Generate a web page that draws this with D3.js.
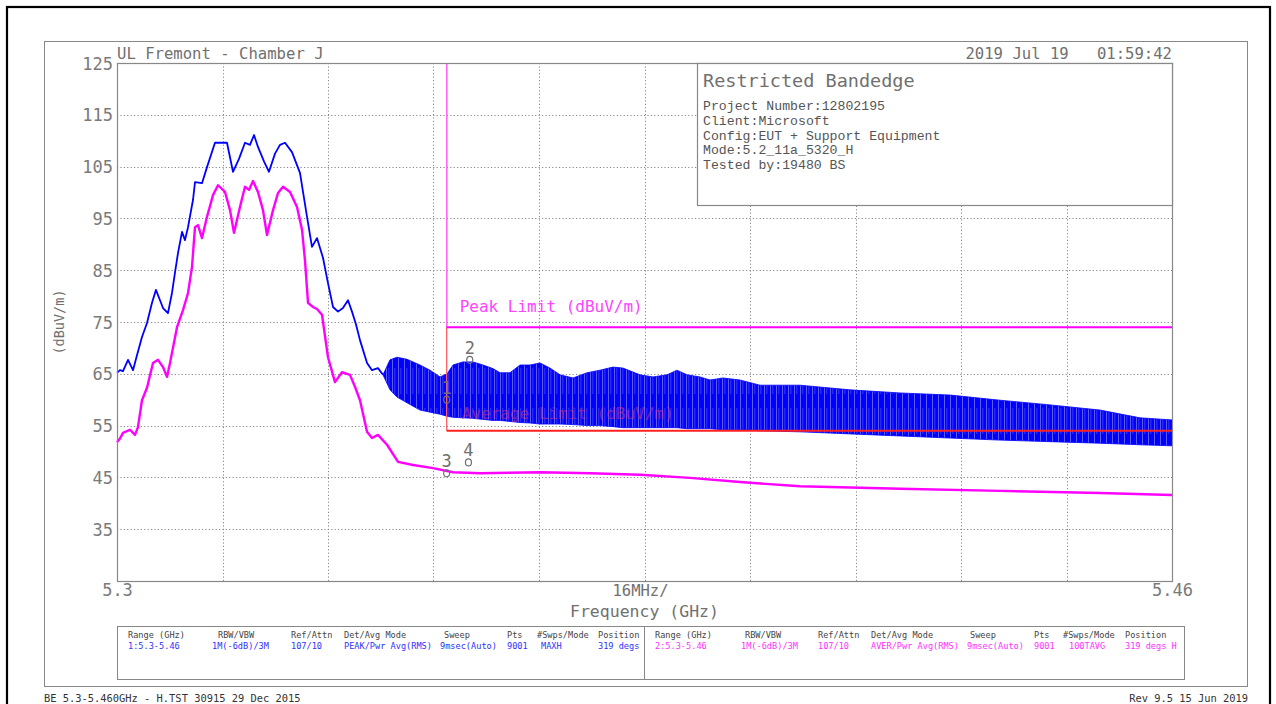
<!DOCTYPE html>
<html><head><meta charset="utf-8">
<script src="https://cdn.jsdelivr.net/npm/d3@7"></script>
<style>
html,body{margin:0;padding:0;background:#fff;}
svg{display:block;}
text{font-family:"DejaVu Sans Mono","Liberation Mono",monospace;}
</style></head>
<body>
<svg id="chart" width="1276" height="704"></svg>
<script>
// ---------------- DATA ----------------
// Trace 1 (blue, PEAK / MAXH) smooth part: frequency (GHz) and level (dBuV/m)
const peakFreq = [5.30000,5.30045,5.30091,5.30167,5.30243,5.30303,5.30379,5.30455,5.30531,5.30591,5.30652,5.30698,5.30773,5.30834,5.30880,5.30925,5.30986,5.31031,5.31077,5.31153,5.31183,5.31289,5.31365,5.31486,5.31577,5.31668,5.31759,5.31850,5.31941,5.32017,5.32078,5.32138,5.32229,5.32305,5.32396,5.32472,5.32548,5.32654,5.32775,5.32882,5.32957,5.33033,5.33124,5.33200,5.33276,5.33352,5.33427,5.33503,5.33564,5.33625,5.33685,5.33792,5.33867,5.33958,5.34034];
const peakVal  = [65.2,65.7,65.5,67.7,65.7,68.6,72.1,74.8,78.7,81.2,79.2,77.7,76.7,80.6,84.6,88.3,92.4,90.8,93.3,98.6,102.0,101.8,104.9,109.6,109.6,109.6,104.0,106.5,109.6,109.2,111.1,108.8,106.0,104.0,107.5,109.2,109.6,107.8,103.8,95.3,89.5,91.2,87.4,82.5,77.9,77.0,77.7,79.2,77.0,74.5,71.5,67.1,65.7,66.1,64.8];
// Trace 1 noisy band (upper / lower envelope) beyond 5.34 GHz
const bandFreq   = [5.34034,5.34140,5.34247,5.34398,5.34595,5.34747,5.34899,5.35005,5.35096,5.35247,5.35399,5.35551,5.35702,5.35809,5.35960,5.36112,5.36264,5.36415,5.36567,5.36719,5.36916,5.37128,5.37325,5.37522,5.37674,5.37932,5.38129,5.38341,5.38493,5.38645,5.38842,5.38993,5.39190,5.39448,5.39752,5.40358,5.41117,5.41875,5.42633,5.43392,5.44150,5.44908,5.45515,5.46000];
const bandTop    = [64.8,67.7,68.2,67.8,66.7,65.7,64.4,65.0,66.7,67.3,67.3,66.7,66.0,65.2,65.2,66.7,66.7,67.1,66.1,64.8,64.2,65.2,65.7,66.3,66.1,64.8,64.4,64.8,65.7,64.8,64.4,63.8,64.2,63.8,62.8,62.8,61.9,61.3,60.9,59.9,59.0,58.0,56.5,56.1];
const bandBottom = [64.8,61.9,60.5,59.4,58.0,57.6,57.2,56.8,56.6,56.5,56.4,56.2,56.0,56.0,55.8,55.6,55.5,55.3,55.3,55.3,55.2,55.0,55.0,54.8,54.6,54.6,54.6,54.6,54.6,54.4,54.4,54.4,54.2,54.2,54.0,53.8,53.4,53.0,52.6,52.2,51.9,51.6,51.3,51.1];
// Trace 2 (magenta, AVER / 100TAVG)
const avgFreq = [5.30000,5.30045,5.30091,5.30197,5.30273,5.30318,5.30379,5.30455,5.30546,5.30622,5.30698,5.30758,5.30804,5.30910,5.31001,5.31077,5.31137,5.31183,5.31228,5.31289,5.31365,5.31456,5.31532,5.31638,5.31714,5.31774,5.31865,5.31941,5.32002,5.32063,5.32138,5.32214,5.32275,5.32366,5.32442,5.32518,5.32624,5.32730,5.32806,5.32851,5.32897,5.32973,5.33033,5.33109,5.33200,5.33306,5.33412,5.33534,5.33609,5.33685,5.33792,5.33867,5.33958,5.34095,5.34262,5.34489,5.34792,5.35096,5.35505,5.36415,5.37173,5.37932,5.38690,5.39448,5.40358,5.41875,5.43392,5.44908,5.46000];
const avgVal  = [51.8,52.5,53.6,54.2,53.2,54.7,59.9,62.3,67.1,67.7,66.3,64.4,67.1,74.0,77.3,80.6,85.6,93.3,93.7,91.2,95.3,99.5,101.4,100.1,96.6,92.2,97.2,101.1,100.5,102.2,100.1,96.6,91.8,96.6,99.9,101.1,100.1,97.2,92.8,86.9,78.7,77.9,77.5,76.4,68.2,63.4,65.3,64.8,62.5,59.9,53.8,52.6,53.2,51.3,48.0,47.4,46.8,46.0,45.8,46.0,45.8,45.5,44.9,44.1,43.3,42.8,42.4,42.0,41.6];
// Limits
const limitFreq = [5.35, 5.46];
const peakLimit = [74, 74];
const avgLimit  = [54, 54];
// Markers
const markerIds  = ["1","2","3","4"];
const markerFreq = [5.3500, 5.3535, 5.3500, 5.3533];
const markerVal  = [60.0, 67.7, 45.8, 47.9];
// Axes
const yTicks = [35,45,55,65,75,85,95,105,115,125];
const xGrid  = [5.316,5.332,5.348,5.364,5.380,5.396,5.412,5.428,5.444];
const xTickVals = [5.3, 5.46];
const xTickLabels = ["5.3", "5.46"];
// Text
const headerLeft = "UL Fremont - Chamber J";
const headerRight = "2019 Jul 19   01:59:42";
const infoTitle = "Restricted Bandedge";
const infoLines = ["Project Number:12802195","Client:Microsoft","Config:EUT + Support Equipment","Mode:5.2_11a_5320_H","Tested by:19480 BS"];
const tableHeaders = ["Range (GHz)","RBW/VBW","Ref/Attn","Det/Avg Mode","Sweep","Pts","#Swps/Mode","Position"];
const tableRow1 = ["1:5.3-5.46","1M(-6dB)/3M","107/10","PEAK/Pwr Avg(RMS)","9msec(Auto)","9001","MAXH","319 degs H"];
const tableRow2 = ["2:5.3-5.46","1M(-6dB)/3M","107/10","AVER/Pwr Avg(RMS)","9msec(Auto)","9001","100TAVG","319 degs H"];
const footerLeft = "BE 5.3-5.460GHz - H.TST 30915 29 Dec 2015";
const footerRight = "Rev 9.5 15 Jun 2019";

// ---------------- DRAW ----------------
const svg = d3.select("#chart");
const L = 117, R = 1172, T = 63, B = 581;
const x = d3.scaleLinear().domain([5.3, 5.46]).range([L, R]);
const y = d3.scaleLinear().domain([25, 125]).range([B, T]);
const grey = "#707070";
const BLUE = "#0000ff", MAG = "#ff00ff", RED = "#ff2020";

// frames
svg.append("rect").attr("x",7).attr("y",7).attr("width",1263).attr("height",730)
  .attr("fill","none").attr("stroke","#000").attr("stroke-width",2.2);
svg.append("rect").attr("x",44.5).attr("y",41.5).attr("width",1203).attr("height",645)
  .attr("fill","none").attr("stroke","#888").attr("stroke-width",1);

// pattern for noisy band
const defs = svg.append("defs");
const pat = defs.append("pattern").attr("id","streaks").attr("patternUnits","userSpaceOnUse")
  .attr("width",6).attr("height",40);
pat.append("rect").attr("width",6).attr("height",40).attr("fill",BLUE);
pat.append("rect").attr("x",2).attr("width",0.8).attr("height",40).attr("fill","#fff").attr("opacity",0.45);
pat.append("rect").attr("x",4.6).attr("y",8).attr("width",0.6).attr("height",26).attr("fill","#fff").attr("opacity",0.35);

// grid
const grid = svg.append("g").attr("stroke","#888").attr("stroke-width",1).attr("stroke-dasharray","1.2,2.2");
grid.selectAll("line.h").data(yTicks.filter(v => v > 25 && v < 125)).join("line")
  .attr("x1",L).attr("x2",R).attr("y1",d => Math.round(y(d))+0.5).attr("y2",d => Math.round(y(d))+0.5);
grid.selectAll("line.v").data(xGrid).join("line")
  .attr("y1",T).attr("y2",B).attr("x1",d => Math.round(x(d))+0.5).attr("x2",d => Math.round(x(d))+0.5);

// y axis labels
const yAxis = d3.axisLeft(y).tickValues(yTicks).tickSize(0).tickPadding(4).tickFormat(d3.format("d"));
const gy = svg.append("g").attr("transform",`translate(${L},0)`).call(yAxis);
gy.select(".domain").remove();
gy.selectAll("text").attr("fill","#7a7a7a").attr("font-size",17).attr("dy","0.36em")
  .style("font-family","'DejaVu Sans Mono',monospace");

// x axis labels
const xAxis = d3.axisBottom(x).tickValues(xTickVals).tickSize(0).tickPadding(3)
  .tickFormat((d,i) => xTickLabels[i]);
const gx = svg.append("g").attr("transform",`translate(0,${B})`).call(xAxis);
gx.select(".domain").remove();
gx.selectAll("text").attr("fill","#7a7a7a").attr("font-size",17)
  .style("font-family","'DejaVu Sans Mono',monospace");

svg.append("text").attr("x",(L+R)/2-4).attr("y",596).attr("text-anchor","middle")
  .attr("font-size",15.5).attr("fill",grey).text("16MHz/");
svg.append("text").attr("x",(L+R)/2).attr("y",617).attr("text-anchor","middle")
  .attr("font-size",16.5).attr("fill",grey).text("Frequency (GHz)");
svg.append("text").attr("transform","translate(64,322) rotate(-90)").attr("text-anchor","middle")
  .attr("font-size",13.5).attr("fill",grey).text("(dBuV/m)");

// header texts
svg.append("text").attr("x",L).attr("y",59).attr("font-size",15.6).attr("fill",grey).text(headerLeft);
svg.append("text").attr("x",R).attr("y",59).attr("text-anchor","end").attr("font-size",15.6).attr("fill",grey)
  .style("white-space","pre").text(headerRight);

// traces
const band = d3.area().x((d,i) => x(bandFreq[i])).y0((d,i) => y(bandBottom[i])).y1((d,i) => y(bandTop[i]));
svg.append("path").attr("d", band(bandFreq)).attr("fill","url(#streaks)").attr("stroke",BLUE).attr("stroke-width",0.8);

const lineGen = (fs, vs) => d3.line().x((d,i) => x(fs[i])).y((d,i) => y(vs[i]))(fs);
svg.append("path").attr("d", lineGen(peakFreq, peakVal)).attr("fill","none").attr("stroke",BLUE)
  .attr("stroke-width",1.8).attr("stroke-linejoin","round");
svg.append("path").attr("d", lineGen(avgFreq, avgVal)).attr("fill","none").attr("stroke",MAG)
  .attr("stroke-width",2.4).attr("stroke-linejoin","round");

// limits
svg.append("line").attr("x1",x(limitFreq[0])).attr("x2",x(limitFreq[0])).attr("y1",T).attr("y2",y(avgLimit[0]))
  .attr("stroke","#ff6060").attr("stroke-width",1.3);
svg.append("line").attr("x1",x(limitFreq[0])).attr("x2",x(limitFreq[0])).attr("y1",T).attr("y2",y(peakLimit[0]))
  .attr("stroke","#ff66ff").attr("stroke-width",1.3);
svg.append("path").attr("d", lineGen(limitFreq, peakLimit)).attr("stroke",MAG).attr("stroke-width",2);
svg.append("path").attr("d", lineGen(limitFreq, avgLimit)).attr("stroke",RED).attr("stroke-width",2);
svg.append("text").attr("x",x(limitFreq[0])+13).attr("y",y(peakLimit[0])-15).attr("font-size",16)
  .attr("fill","#ff44ff").text("Peak Limit (dBuV/m)");
svg.append("text").attr("x",x(limitFreq[0])+15).attr("y",y(avgLimit[0])-12).attr("font-size",16)
  .attr("fill","#e03070").attr("opacity",0.55).text("Average Limit (dBuV/m)");

// markers
const mk = svg.append("g");
markerIds.forEach((id,i) => {
  const cx = x(markerFreq[i]), cy = y(markerVal[i]);
  mk.append("ellipse").attr("cx",cx).attr("cy",cy).attr("rx",3).attr("ry",3.5)
    .attr("fill","none").attr("stroke",grey).attr("stroke-width",1.2);
  mk.append("text").attr("x",cx).attr("y",cy-6).attr("text-anchor","middle").attr("font-size",17)
    .attr("fill",grey).text(id);
});

// plot border
svg.append("rect").attr("x",L+0.5).attr("y",T+0.5).attr("width",R-L).attr("height",B-T)
  .attr("fill","none").attr("stroke","#888").attr("stroke-width",1.2);

// info box
svg.append("rect").attr("x",697.5).attr("y",T+0.5).attr("width",R-697).attr("height",142)
  .attr("fill","#fff").attr("stroke","#888").attr("stroke-width",1.2);
svg.append("text").attr("x",703).attr("y",87).attr("font-size",18.5).attr("fill",grey).text(infoTitle);
svg.selectAll("text.info").data(infoLines).join("text").attr("class","info")
  .attr("x",703).attr("y",(d,i) => 110 + i*14.8).attr("font-size",13.2).attr("fill","#555")
  .style("font-family","'Liberation Mono',monospace").text(d => d);

// settings table
svg.append("rect").attr("x",117.5).attr("y",626.5).attr("width",1067).attr("height",53)
  .attr("fill","none").attr("stroke","#888").attr("stroke-width",1);
svg.append("line").attr("x1",644.5).attr("x2",644.5).attr("y1",626).attr("y2",680).attr("stroke","#888");
const colL = [128,218,291,344,444,507,537,598];
const colLv = [128,212,291,344,440,507,541,598];
const colR = [655,745,818,871,970,1034,1063,1125];
const colRv = [655,741,818,871,967,1034,1069,1125];
defs.append("clipPath").attr("id","leftclip").append("rect").attr("x",117).attr("y",620).attr("width",526).attr("height",60);
const tl = svg.append("g").attr("clip-path","url(#leftclip)");
tableHeaders.forEach((h,i) => {
  tl.append("text").attr("x",colL[i]).attr("y",638).attr("font-size",8.6).attr("fill","#444").text(h);
  tl.append("text").attr("x",colLv[i]).attr("y",649).attr("font-size",8.6).attr("fill","#3030ff").text(tableRow1[i]);
  svg.append("text").attr("x",colR[i]).attr("y",638).attr("font-size",8.6).attr("fill","#444").text(h);
  svg.append("text").attr("x",colRv[i]).attr("y",649).attr("font-size",8.6).attr("fill","#ff30ff").text(tableRow2[i]);
});

// footer
svg.append("text").attr("x",44).attr("y",702).attr("font-size",10.4).attr("fill","#333").text(footerLeft);
svg.append("text").attr("x",1248).attr("y",702).attr("text-anchor","end").attr("font-size",10.4).attr("fill","#333").text(footerRight);
</script>
</body></html>
